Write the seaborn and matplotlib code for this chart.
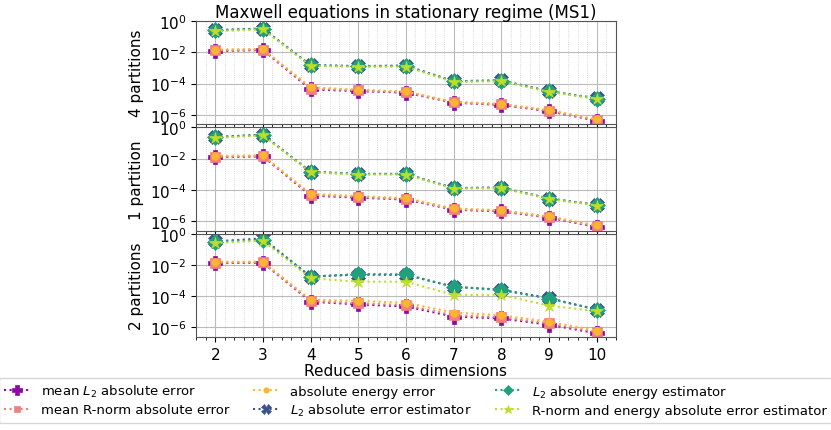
import seaborn as sns
import matplotlib.pyplot as plt
from matplotlib.ticker import AutoMinorLocator

dims = [2, 3, 4, 5, 6, 7, 8, 9, 10]
panel_names = ["4 partitions", "1 partition", "2 partitions"]

labels = [
    "mean $L_2$ absolute error",
    "mean R-norm absolute error",
    "absolute energy error",
    "$L_2$ absolute error estimator",
    "$L_2$ absolute energy estimator",
    "R-norm and energy absolute error estimator",
]
colors = ["#8b0aa5", "#f07f7f", "#fdb42f", "#3b528b", "#22a07e", "#bddf26"]
markers = ["P", "s", "o", "X", "D", "*"]
msizes = [9.5, 7, 5.5, 10, 8, 9]

# 4 partitions
p4_l2_err = [0.012, 0.014, 4.2e-5, 3.3e-5, 2.6e-5, 6.0e-6, 4.3e-6, 1.7e-6, 4.2e-7]
p4_rnorm_err = [0.013, 0.015, 4.8e-5, 3.6e-5, 2.8e-5, 6.3e-6, 4.6e-6, 1.8e-6, 4.6e-7]
p4_energy_err = [0.015, 0.016, 5.8e-5, 4.0e-5, 3.1e-5, 6.8e-6, 5.0e-6, 2.0e-6, 5.2e-7]
p4_l2_est = [0.26, 0.33, 1.5e-3, 1.3e-3, 1.4e-3, 1.4e-4, 1.6e-4, 3.2e-5, 1.15e-5]
p4_energy_est = [0.25, 0.32, 1.45e-3, 1.3e-3, 1.35e-3, 1.4e-4, 1.55e-4, 3.1e-5, 1.1e-5]
p4_rn_en_est = [0.22, 0.29, 1.35e-3, 1.15e-3, 1.2e-3, 1.25e-4, 1.4e-4, 2.9e-5, 1.05e-5]

# 1 partition
p1_l2_err = [0.012, 0.014, 4.3e-5, 3.2e-5, 2.4e-5, 5.4e-6, 4.2e-6, 1.7e-6, 4.2e-7]
p1_rnorm_err = [0.013, 0.015, 4.8e-5, 3.5e-5, 2.6e-5, 5.8e-6, 4.5e-6, 1.8e-6, 4.6e-7]
p1_energy_err = [0.015, 0.016, 5.6e-5, 4.0e-5, 3.0e-5, 6.5e-6, 5.0e-6, 2.0e-6, 5.3e-7]
p1_l2_est = [0.24, 0.34, 1.45e-3, 1.05e-3, 1.05e-3, 1.3e-4, 1.4e-4, 2.8e-5, 1.1e-5]
p1_energy_est = [0.23, 0.33, 1.4e-3, 1.05e-3, 1.05e-3, 1.3e-4, 1.4e-4, 2.8e-5, 1.1e-5]
p1_rn_en_est = [0.21, 0.30, 1.3e-3, 9.5e-4, 9.5e-4, 1.2e-4, 1.3e-4, 2.6e-5, 1.0e-5]

# 2 partitions
p2_l2_err = [0.013, 0.014, 4.5e-5, 3.0e-5, 2.2e-5, 5.0e-6, 3.8e-6, 1.5e-6, 4.3e-7]
p2_rnorm_err = [0.014, 0.015, 5.0e-5, 3.5e-5, 2.7e-5, 6.0e-6, 4.5e-6, 1.8e-6, 5.0e-7]
p2_energy_err = [0.016, 0.016, 6.0e-5, 5.0e-5, 3.8e-5, 9.0e-6, 6.0e-6, 2.3e-6, 6.3e-7]
p2_l2_est = [0.32, 0.50, 1.8e-3, 2.4e-3, 2.3e-3, 4.0e-4, 2.6e-4, 7.5e-5, 1.4e-5]
p2_energy_est = [0.30, 0.42, 1.8e-3, 2.6e-3, 2.5e-3, 4.0e-4, 2.5e-4, 7.0e-5, 1.4e-5]
p2_rn_en_est = [0.25, 0.36, 1.4e-3, 8.5e-4, 8.5e-4, 1.2e-4, 1.2e-4, 2.5e-5, 1.1e-5]

panels = [
    [p4_l2_err, p4_rnorm_err, p4_energy_err, p4_l2_est, p4_energy_est, p4_rn_en_est],
    [p1_l2_err, p1_rnorm_err, p1_energy_err, p1_l2_est, p1_energy_est, p1_rn_en_est],
    [p2_l2_err, p2_rnorm_err, p2_energy_err, p2_l2_est, p2_energy_est, p2_rn_en_est],
]

fig, axes = plt.subplots(3, 1, figsize=(8.31, 4.31), dpi=100, sharex=True)
fig.subplots_adjust(left=0.236, right=0.741, top=0.949, bottom=0.216, hspace=0.03)

for ax, series, name in zip(axes, panels, panel_names):
    for vals, lab, col, mk, ms in zip(series, labels, colors, markers, msizes):
        sns.lineplot(x=dims, y=vals, ax=ax, color=col, marker=mk, markersize=ms,
                     linestyle=":", linewidth=1.5, markeredgewidth=0.5,
                     markeredgecolor=col, label=lab, legend=False)
    ax.set_yscale("log")
    ax.set_ylim(2.5e-7, 1)
    ax.set_yticks([1e-6, 1e-4, 1e-2, 1e0])
    ax.set_ylabel(name, fontsize=11)
    ax.tick_params(labelsize=11)
    ax.xaxis.set_minor_locator(AutoMinorLocator(5))
    ax.grid(True, which="major", color="#bbbbbb", linewidth=0.8)
    ax.grid(True, which="minor", axis="x", color="#cccccc", linestyle=":", linewidth=0.6)
    ax.set_axisbelow(True)
    for sp in ax.spines.values():
        sp.set_color("#555555")

axes[0].set_title("Maxwell equations in stationary regime (MS1)", fontsize=12, pad=2)
axes[-1].set_xticks(dims)
axes[-1].set_xlabel("Reduced basis dimensions", fontsize=11, labelpad=1)

handles, labs = axes[0].get_legend_handles_labels()
fig.legend(handles, labs, loc="lower center", ncol=3, fontsize=9.5,
           bbox_to_anchor=(0.5, 0.0), markerscale=0.7, columnspacing=1.8,
           labelspacing=0.3, handlelength=2.0)

plt.savefig("out.png")
plt.close()
